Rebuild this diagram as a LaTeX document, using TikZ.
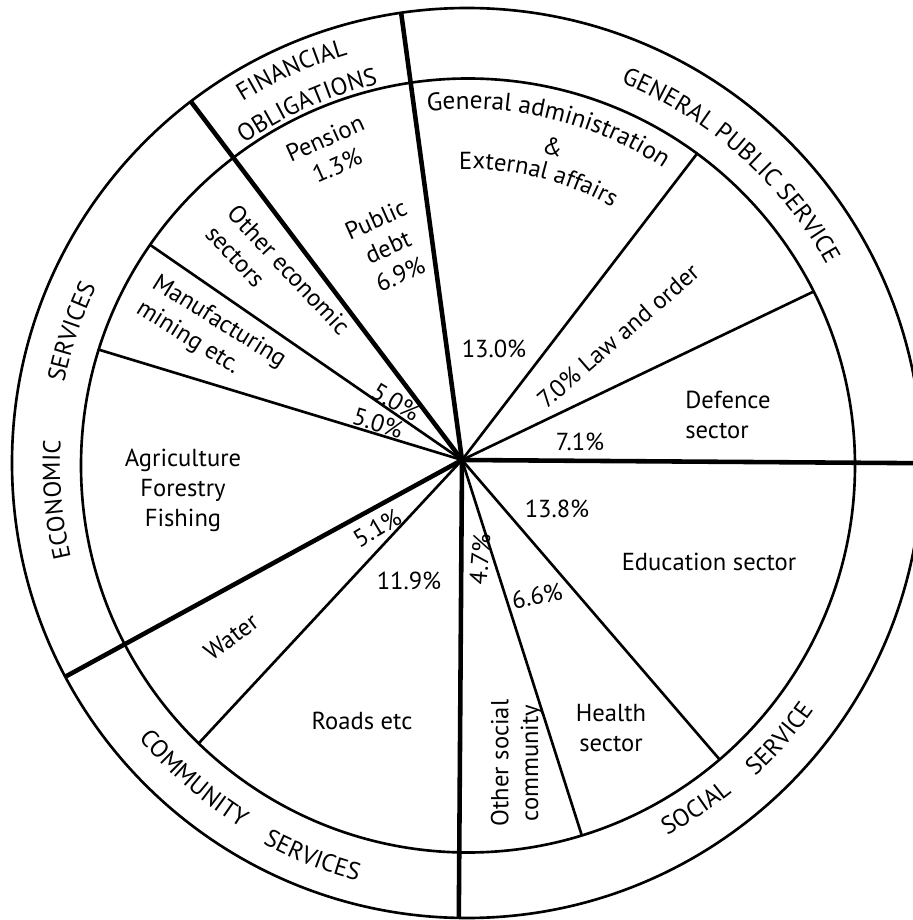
\documentclass[tikz,border=0pt]{standalone}
\usepackage{fontspec}
\setmainfont{PT Sans}
\usetikzlibrary{decorations.text}

\newcommand{\labelfont}{\fontsize{14}{17}\selectfont}
\newcommand{\headfont}{\fontsize{14.4}{18}\selectfont}

\begin{document}
\begin{tikzpicture}[x=0.02cm, y=0.02cm, font=\labelfont]

	% Styles
	\tikzset{
		rim/.style={line width=1.5pt},
		spoke/.style={line width=1.5pt},
		mainspoke/.style={line width=2.6pt},
		sector/.style={align=center, inner sep=0pt},
		ringtext/.style={
			decorate,
			decoration={text along path, text align=center, text={|\labelfont|#1}},
		},
		headtext/.style={
			decorate,
			decoration={text along path, text align=center, text={|\headfont|#1}},
		},
	}

	% Frame of the picture
	\useasboundingbox (-462,-460) rectangle (451,460);
	\clip (-462,-460) rectangle (451,460);

	% Hub of the spokes and centres of the two circles
	\coordinate (hub) at (0,0);
	\coordinate (inner) at (6,-5.5);
	\coordinate (outer) at (5,-3);
	\coordinate (ring) at (5,-4);

	% Circles
	\draw[rim] (outer) circle (455);
	\draw[rim] (inner) circle (387);

	% Thick spokes between the groups, out to the rim
	\draw[mainspoke] (hub) -- (-0.4:480);
	\draw[mainspoke] (hub) -- (97.75:451);
	\draw[mainspoke] (hub) -- (127.1:450);
	\draw[mainspoke] (hub) -- (208.65:452);
	\draw[mainspoke] (hub) -- (269.6:458);

	% Thin spokes inside the groups
	\draw[spoke] (hub) -- (25.6:390);
	\draw[spoke] (hub) -- (52.5:386);
	\draw[spoke] (hub) -- (145.4:379);
	\draw[spoke] (hub) -- (163.1:380);
	\draw[spoke] (hub) -- (227.1:387);
	\draw[spoke] (hub) -- (287.7:394);
	\draw[spoke] (hub) -- (310.7:395);

	% Group names in the ring
	\path[shift={(ring)}, ringtext={GENERAL PUBLIC SERVICE}] (88:411) arc[start angle=88, end angle=9, radius=411];
	\path[shift={(ring)}, ringtext={FINANCIAL}] (140:426) arc[start angle=140, end angle=88, radius=426];
	\path[shift={(ring)}, ringtext={OBLIGATIONS}] (140:390) arc[start angle=140, end angle=88, radius=390];
	\path[shift={(ring)}, ringtext={ECONOMIC}] (205:407) arc[start angle=205, end angle=165, radius=407];
	\path[shift={(ring)}, ringtext={SERVICES}] (181.5:411) arc[start angle=181.5, end angle=141.5, radius=411];
	\path[shift={(ring)}, ringtext={COMMUNITY}] (209:428) arc[start angle=209, end angle=249, radius=428];
	\path[shift={(ring)}, ringtext={SERVICES}] (228.5:431) arc[start angle=228.5, end angle=268.5, radius=431];
	\path[shift={(ring)}, ringtext={SOCIAL}] (283.6:422) arc[start angle=283.6, end angle=323.6, radius=422];
	\path[shift={(ring)}, ringtext={SERVICE}] (298.7:425) arc[start angle=298.7, end angle=338.7, radius=425];

	% General public service
	\path[shift={(ring)}, headtext={General administration}] (111.4:355) arc[start angle=111.4, end angle=41.4, radius=355];
	\node[sector, rotate=-15] (amp) at (91,313) {\&};
	\path[shift={(ring)}, ringtext={External affairs}] (106:295) arc[start angle=106, end angle=46, radius=295];
	\node[sector] (adminpc) at (32,111) {13.0\%};
	\node[sector, rotate=41] (law) at (156,124) {7.0\% Law and order};
	\node[sector, anchor=west, align=left] (defence) at (223,45) {Defence\\sector};
	\node[sector] (defencepc) at (118,18) {7.1\%};

	% Financial obligations
	\node[sector, rotate=24] (pension) at (-131,308) {Pension\\1.3\%};
	\node[sector, rotate=24] (debt) at (-74,213) {Public\\debt\\6.9\%};

	% Economic services
	\node[sector, rotate=-47, align=left] (othereco) at (-184,180) {Other economic\\sectors};
	\node[sector, rotate=-32, align=left] (manuf) at (-251,125) {Manufacturing\\mining etc.};
	\node[sector, rotate=-31] (otherecopc) at (-66,58) {5.0\%};
	\node[sector, rotate=-17] (manufpc) at (-84,37) {5.0\%};
	\node[sector] (agri) at (-279,-30) {Agriculture\\Forestry\\Fishing};

	% Community services
	\node[sector, rotate=37] (water) at (-231,-177) {Water};
	\node[sector, rotate=31] (waterpc) at (-85,-68) {5.1\%};
	\node[sector] (roadspc) at (-53,-121) {11.9\%};
	\node[sector] (roads) at (-100,-261) {Roads etc};

	% Social service
	\node[sector, rotate=90] (othersoc) at (55,-303) {Other social\\community};
	\node[sector, rotate=85] (othersocpc) at (18,-99) {4.7\%};
	\node[sector, rotate=12] (healthpc) at (75,-136) {6.6\%};
	\node[sector] (health) at (149,-268) {Health\\sector};
	\node[sector] (edupc) at (95,-49) {13.8\%};
	\node[sector] (edu) at (247,-102) {Education sector};

\end{tikzpicture}
\end{document}
